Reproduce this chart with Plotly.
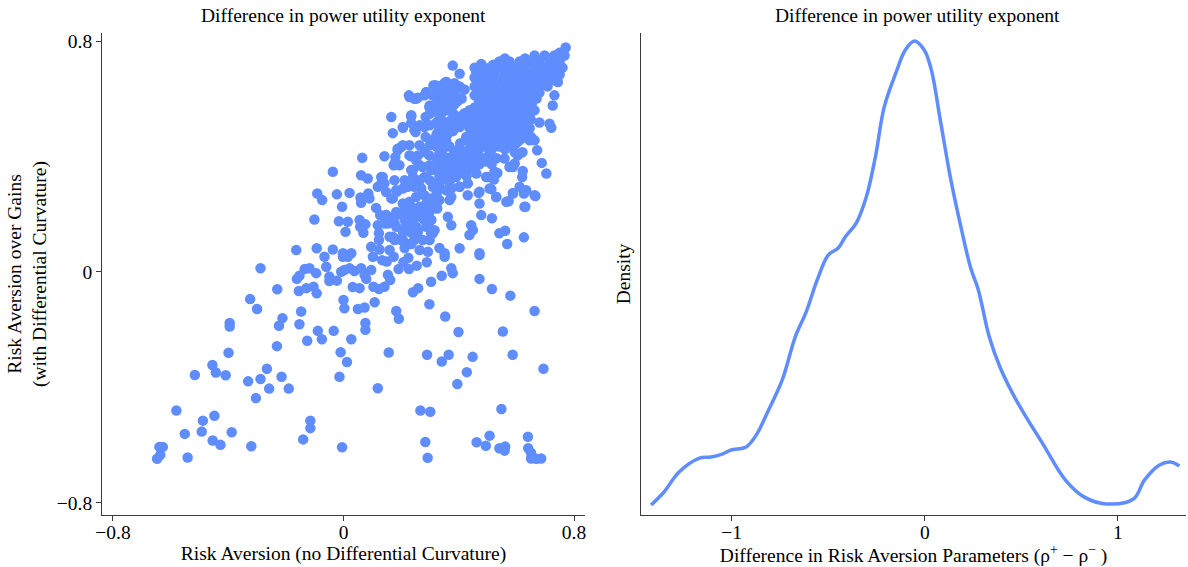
import plotly.graph_objects as go

# ---------------- Scatter data (x = risk aversion no diff. curvature, y = risk aversion over gains) ----
lower_left_pts = [
    (-0.288, 0.013), (-0.230, -0.060), (-0.324, -0.094), (-0.300, -0.128), (-0.212, -0.160),
    (-0.224, -0.186), (-0.395, -0.177), (-0.395, -0.189), (-0.231, -0.257), (-0.399, -0.280),
    (-0.455, -0.322), (-0.443, -0.348), (-0.409, -0.358), (-0.516, -0.357), (-0.266, -0.335),
    (-0.288, -0.371), (-0.331, -0.379), (-0.215, -0.363), (-0.258, -0.404), (-0.190, -0.404),
    (-0.304, -0.437), (-0.580, -0.480), (-0.488, -0.515), (-0.448, -0.498), (-0.551, -0.561),
    (-0.492, -0.553), (-0.388, -0.555), (-0.454, -0.584), (-0.427, -0.599), (-0.320, -0.604),
    (-0.639, -0.606), (-0.627, -0.606), (-0.636, -0.634), (-0.647, -0.647), (-0.541, -0.643),
]
lower_mid_pts = [
    (-0.147, -0.137), (-0.153, -0.181), (-0.089, -0.204), (-0.034, -0.204), (-0.075, -0.233),
    (-0.126, -0.238), (0.000, -0.097), (0.003, -0.126), (0.050, -0.128), (0.073, -0.123),
    (0.108, -0.105), (0.076, -0.177), (0.076, -0.200), (0.027, -0.233), (0.183, -0.135),
    (0.192, -0.162), (-0.010, -0.278), (0.012, -0.312), (0.157, -0.279), (0.290, -0.287),
    (-0.014, -0.363), (0.119, -0.403), (0.267, -0.480), (0.301, -0.484), (-0.115, -0.515),
    (-0.115, -0.541), (-0.140, -0.580), (-0.005, -0.607), (0.284, -0.589), (0.292, -0.644),
    (-0.066, 0.053), (-0.060, 0.018), (-0.002, 0.053), (0.015, 0.053), (0.003, 0.007),
    (-0.008, 0.001), (0.021, 0.013), (0.038, 0.003), (0.061, 0.013), (0.073, -0.010),
    (0.096, 0.007), (0.079, -0.024), (0.102, 0.053), (0.134, 0.041), (0.150, 0.036),
    (0.174, 0.053), (0.208, 0.034), (0.225, 0.049), (0.227, 0.010), (0.254, 0.022),
    (0.289, 0.034), (0.191, 0.010), (0.154, -0.010), (0.162, -0.028), (0.142, -0.051),
    (0.123, -0.059), (0.104, -0.051), (0.032, -0.052), (0.056, -0.056), (-0.049, -0.016),
    (-0.049, -0.031), (-0.023, -0.030), (-0.095, -0.004), (-0.118, 0.013), (-0.135, 0.010),
    (-0.162, -0.024), (-0.153, -0.013), (-0.155, -0.066), (-0.129, -0.056), (-0.104, -0.051),
    (-0.093, -0.074), (0.241, -0.070), (0.259, -0.056), (0.304, -0.034), (0.298, -0.112),
]
lower_right_pts = [
    (0.351, 0.053), (0.472, 0.059), (0.374, 0.013), (0.379, -0.004), (0.341, -0.013),
    (0.472, -0.024), (0.515, -0.059), (0.579, -0.082), (0.663, -0.135), (0.353, -0.154),
    (0.399, -0.208), (0.553, -0.206), (0.365, -0.287), (0.341, -0.310), (0.448, -0.294),
    (0.587, -0.287), (0.428, -0.347), (0.395, -0.388), (0.694, -0.335), (0.548, -0.475),
    (0.507, -0.567), (0.462, -0.590), (0.494, -0.602), (0.541, -0.611), (0.561, -0.605),
    (0.559, -0.619), (0.640, -0.571), (0.641, -0.611), (0.651, -0.627), (0.651, -0.646),
    (0.669, -0.647), (0.686, -0.646),
]
upper_mid_pts = [
    (-0.164, 0.076), (-0.093, 0.082), (-0.037, 0.078), (-0.002, 0.065), (0.027, 0.065),
    (-0.101, 0.182), (-0.016, 0.176), (0.015, 0.174), (0.007, 0.139), (0.056, 0.180),
    (0.076, 0.165), (0.058, 0.157), (0.069, 0.136), (-0.091, 0.272), (-0.074, 0.249),
    (-0.023, 0.269), (0.021, 0.274), (-0.005, 0.226), (0.059, 0.258), (0.061, 0.240),
    (0.086, 0.272), (0.090, 0.255), (0.113, 0.222), (-0.037, 0.347), (0.061, 0.335),
    (0.084, 0.324), (0.065, 0.396), (0.142, 0.401), (0.131, 0.329), (0.119, 0.295),
    (0.142, 0.307), (0.148, 0.277), (0.166, 0.255), (0.127, 0.197), (0.148, 0.197),
    (0.119, 0.162), (0.123, 0.134), (0.123, 0.111), (0.096, 0.087), (0.125, 0.078),
    (0.160, 0.076), (0.154, 0.168), (0.177, 0.168), (0.183, 0.208), (0.185, 0.278),
    (0.206, 0.289), (0.223, 0.295), (0.246, 0.295), (0.270, 0.289), (0.281, 0.266),
    (0.252, 0.260), (0.229, 0.243), (0.212, 0.226), (0.194, 0.203), (0.241, 0.214),
    (0.270, 0.214), (0.252, 0.191), (0.275, 0.186), (0.298, 0.214), (0.304, 0.255),
    (0.218, 0.162), (0.241, 0.168), (0.206, 0.139), (0.235, 0.136), (0.258, 0.139),
    (0.171, 0.122), (0.183, 0.113), (0.206, 0.111), (0.235, 0.097), (0.264, 0.076),
    (0.293, 0.070), (0.304, 0.134), (0.287, 0.157), (0.166, 0.537), (0.171, 0.481),
    (0.206, 0.500), (0.235, 0.539), (0.227, 0.612), (0.246, 0.600), (0.258, 0.604),
    (0.287, 0.623), (0.312, 0.646), (0.298, 0.571), (0.285, 0.537), (0.235, 0.516),
    (0.250, 0.485), (0.285, 0.468), (0.304, 0.456), (0.200, 0.433), (0.188, 0.422),
    (0.180, 0.398), (0.174, 0.370), (0.229, 0.404), (0.258, 0.404), (0.281, 0.416),
    (0.252, 0.387), (0.275, 0.364), (0.235, 0.353), (0.241, 0.329), (0.281, 0.329),
    (0.298, 0.404), (0.304, 0.353), (0.310, 0.295),
    (0.281, 0.612), (0.309, 0.612), (0.299, 0.577), (0.264, 0.508), (0.299, 0.508),
    (0.229, 0.439), (0.264, 0.439), (0.299, 0.439), (0.194, 0.370), (0.264, 0.370),
    (0.299, 0.370), (0.177, 0.318), (0.212, 0.318), (0.264, 0.318), (0.299, 0.318),
    (0.229, 0.232), (0.299, 0.232), (0.212, 0.180), (0.281, 0.180), (0.305, 0.180),
    (0.177, 0.111), (0.246, 0.111), (0.299, 0.111), (0.212, 0.083), (0.333, 0.083),
]
middle_band_pts = [
    (0.188, 0.427), (0.206, 0.439), (0.235, 0.401), (0.177, 0.376), (0.241, 0.353),
    (0.136, 0.329), (0.131, 0.307), (0.183, 0.283), (0.171, 0.255), (0.218, 0.295),
    (0.241, 0.301), (0.264, 0.295), (0.206, 0.237), (0.235, 0.226), (0.264, 0.226),
    (0.287, 0.237), (0.148, 0.197), (0.177, 0.191), (0.212, 0.197), (0.241, 0.191),
    (0.270, 0.197), (0.299, 0.208), (0.142, 0.168), (0.183, 0.157), (0.218, 0.145),
    (0.252, 0.157), (0.299, 0.151), (0.160, 0.122), (0.200, 0.111), (0.235, 0.099),
    (0.275, 0.111), (0.310, 0.134), (0.322, 0.353), (0.356, 0.376), (0.391, 0.399),
    (0.414, 0.364), (0.356, 0.329), (0.391, 0.329), (0.426, 0.353), (0.333, 0.307),
    (0.356, 0.283), (0.374, 0.260), (0.403, 0.295), (0.431, 0.307), (0.472, 0.278),
    (0.507, 0.289), (0.530, 0.260), (0.495, 0.329), (0.524, 0.347), (0.322, 0.456),
    (0.356, 0.456), (0.426, 0.468), (0.461, 0.456), (0.403, 0.502), (0.437, 0.525),
    (0.229, 0.606), (0.252, 0.600), (0.287, 0.623), (0.316, 0.612), (0.345, 0.618),
    (0.316, 0.646), (0.356, 0.658), (0.495, 0.704), (0.299, 0.548), (0.281, 0.502),
    (0.235, 0.543), (0.206, 0.502), (0.246, 0.491), (0.588, 0.364), (0.663, 0.266),
    (0.628, 0.226), (0.588, 0.272), (0.565, 0.243),
]
upper_right_pts = [
    (0.379, 0.715), (0.403, 0.687), (0.478, 0.721), (0.461, 0.692), (0.356, 0.658),
    (0.322, 0.646), (0.466, 0.646), (0.726, 0.577), (0.715, 0.514), (0.721, 0.500),
    (0.732, 0.612), (0.744, 0.658), (0.672, 0.422), (0.688, 0.378), (0.704, 0.341),
    (0.622, 0.350), (0.620, 0.329), (0.611, 0.295), (0.634, 0.283), (0.626, 0.272),
    (0.666, 0.263), (0.588, 0.274), (0.573, 0.245), (0.631, 0.226), (0.530, 0.260),
    (0.513, 0.287), (0.472, 0.237), (0.469, 0.274), (0.534, 0.343), (0.522, 0.320),
    (0.499, 0.329), (0.461, 0.341), (0.431, 0.307), (0.431, 0.266), (0.403, 0.295),
    (0.368, 0.249), (0.322, 0.237), (0.325, 0.220), (0.362, 0.191), (0.374, 0.162),
    (0.316, 0.145), (0.443, 0.162), (0.449, 0.145), (0.437, 0.128), (0.478, 0.197),
    (0.515, 0.186), (0.541, 0.134), (0.561, 0.143), (0.568, 0.097), (0.626, 0.120),
    (0.403, 0.082), (0.472, 0.065), (0.351, 0.065), (0.576, 0.364), (0.594, 0.376),
    (0.605, 0.404), (0.559, 0.393), (0.663, 0.456), (0.651, 0.468),
]
dense_cluster_pts = [
    (0.771, 0.778), (0.750, 0.760),
    (0.663, 0.750), (0.698, 0.750), (0.732, 0.750), (0.767, 0.750),
    (0.541, 0.729), (0.576, 0.729), (0.611, 0.729), (0.646, 0.729), (0.680, 0.729), (0.715, 0.729), (0.750, 0.729),
    (0.455, 0.708), (0.507, 0.708), (0.541, 0.708), (0.594, 0.708), (0.628, 0.708), (0.663, 0.708),
    (0.698, 0.708), (0.732, 0.708), (0.760, 0.708),
    (0.489, 0.684), (0.524, 0.684), (0.559, 0.684), (0.611, 0.684), (0.646, 0.684), (0.680, 0.684),
    (0.715, 0.684), (0.750, 0.684),
    (0.472, 0.664), (0.507, 0.664), (0.541, 0.664), (0.576, 0.664), (0.611, 0.664), (0.663, 0.664),
    (0.698, 0.664), (0.732, 0.664),
    (0.333, 0.643), (0.368, 0.643), (0.403, 0.643), (0.455, 0.643), (0.489, 0.643), (0.524, 0.643),
    (0.559, 0.643), (0.594, 0.643), (0.628, 0.643), (0.680, 0.643), (0.708, 0.643),
    (0.351, 0.622), (0.385, 0.622), (0.472, 0.622), (0.507, 0.622), (0.541, 0.622), (0.576, 0.622),
    (0.611, 0.622), (0.646, 0.622), (0.680, 0.622),
    (0.323, 0.601), (0.368, 0.601), (0.410, 0.601), (0.489, 0.601), (0.531, 0.601), (0.566, 0.601),
    (0.601, 0.601), (0.635, 0.601), (0.670, 0.601),
    (0.333, 0.581), (0.385, 0.581), (0.472, 0.581), (0.507, 0.581), (0.541, 0.581), (0.583, 0.581),
    (0.618, 0.581), (0.653, 0.581),
    (0.323, 0.560), (0.357, 0.560), (0.437, 0.560), (0.479, 0.560), (0.524, 0.560), (0.559, 0.560),
    (0.594, 0.560), (0.628, 0.560), (0.663, 0.560),
    (0.333, 0.539), (0.403, 0.539), (0.455, 0.539), (0.496, 0.539), (0.541, 0.539), (0.576, 0.539),
    (0.611, 0.539), (0.646, 0.539),
    (0.323, 0.518), (0.357, 0.518), (0.392, 0.518), (0.427, 0.518), (0.472, 0.518), (0.514, 0.518),
    (0.559, 0.518), (0.594, 0.518), (0.628, 0.518), (0.680, 0.518),
    (0.340, 0.498), (0.375, 0.498), (0.437, 0.498), (0.489, 0.498), (0.531, 0.498), (0.576, 0.498),
    (0.611, 0.498), (0.646, 0.498),
    (0.323, 0.477), (0.361, 0.477), (0.455, 0.477), (0.507, 0.477), (0.548, 0.477), (0.594, 0.477),
    (0.628, 0.477),
    (0.333, 0.456), (0.430, 0.456), (0.472, 0.456), (0.524, 0.456), (0.566, 0.456), (0.611, 0.456),
    (0.646, 0.456),
    (0.323, 0.435), (0.368, 0.435), (0.444, 0.435), (0.489, 0.435), (0.541, 0.435), (0.583, 0.435),
    (0.333, 0.415), (0.385, 0.415), (0.420, 0.415), (0.465, 0.415), (0.507, 0.415), (0.594, 0.415),
    (0.621, 0.415),
    (0.323, 0.394), (0.361, 0.394), (0.403, 0.394), (0.444, 0.394), (0.489, 0.394), (0.531, 0.394),
    (0.340, 0.373), (0.385, 0.373), (0.427, 0.373), (0.472, 0.373), (0.514, 0.373),
    (0.323, 0.353), (0.368, 0.353), (0.410, 0.353), (0.455, 0.353),
    (0.333, 0.332), (0.385, 0.332), (0.427, 0.332),
    (0.323, 0.311), (0.368, 0.311),
    (0.333, 0.290), (0.375, 0.290),
    (0.323, 0.270),
    (0.333, 0.249),
]
dense_fill_pts = [
    (0.560, 0.740), (0.630, 0.740), (0.715, 0.740), (0.750, 0.740),
    (0.520, 0.718), (0.560, 0.718), (0.612, 0.718), (0.680, 0.718), (0.715, 0.718), (0.745, 0.718),
    (0.470, 0.696), (0.505, 0.696), (0.575, 0.696), (0.595, 0.696), (0.630, 0.696), (0.663, 0.696),
    (0.698, 0.696), (0.735, 0.696),
    (0.455, 0.674), (0.525, 0.674), (0.560, 0.674), (0.590, 0.674), (0.630, 0.674), (0.680, 0.674),
    (0.715, 0.674),
    (0.350, 0.654), (0.385, 0.654), (0.490, 0.654), (0.525, 0.654), (0.560, 0.654), (0.595, 0.654),
    (0.640, 0.654), (0.690, 0.654),
    (0.340, 0.632), (0.370, 0.632), (0.420, 0.632), (0.490, 0.632), (0.525, 0.632), (0.560, 0.632),
    (0.595, 0.632), (0.630, 0.632), (0.660, 0.632),
    (0.340, 0.612), (0.390, 0.612), (0.455, 0.612), (0.510, 0.612), (0.545, 0.612), (0.585, 0.612),
    (0.620, 0.612), (0.655, 0.612),
    (0.350, 0.591), (0.395, 0.591), (0.470, 0.591), (0.510, 0.591), (0.550, 0.591), (0.600, 0.591),
    (0.640, 0.591),
    (0.340, 0.570), (0.370, 0.570), (0.455, 0.570), (0.495, 0.570), (0.540, 0.570), (0.575, 0.570),
    (0.610, 0.570), (0.645, 0.570),
    (0.340, 0.550), (0.380, 0.550), (0.420, 0.550), (0.470, 0.550), (0.510, 0.550), (0.550, 0.550),
    (0.595, 0.550), (0.630, 0.550),
    (0.340, 0.528), (0.375, 0.528), (0.410, 0.528), (0.445, 0.528), (0.490, 0.528), (0.530, 0.528),
    (0.575, 0.528), (0.615, 0.528), (0.650, 0.528),
    (0.330, 0.508), (0.360, 0.508), (0.400, 0.508), (0.455, 0.508), (0.505, 0.508), (0.550, 0.508),
    (0.595, 0.508), (0.630, 0.508),
    (0.330, 0.488), (0.380, 0.488), (0.470, 0.488), (0.525, 0.488), (0.570, 0.488), (0.610, 0.488),
    (0.340, 0.466), (0.445, 0.466), (0.490, 0.466), (0.540, 0.466), (0.585, 0.466), (0.630, 0.466),
    (0.345, 0.446), (0.405, 0.446), (0.460, 0.446), (0.505, 0.446), (0.555, 0.446), (0.600, 0.446),
    (0.345, 0.425), (0.400, 0.425), (0.435, 0.425), (0.470, 0.425), (0.515, 0.425), (0.560, 0.425),
    (0.345, 0.404), (0.380, 0.404), (0.425, 0.404), (0.465, 0.404), (0.510, 0.404),
    (0.330, 0.383), (0.365, 0.383), (0.405, 0.383), (0.455, 0.383), (0.495, 0.383),
    (0.345, 0.363), (0.390, 0.363), (0.435, 0.363),
    (0.350, 0.342), (0.405, 0.342),
    (0.345, 0.321),
]

# ---------------- Density data ----------------
diff_grid = [
    -1.417, -1.350, -1.272, -1.163, -1.106, -1.049, -1.003, -0.925, -0.873, -0.816,
    -0.738, -0.671, -0.614, -0.557, -0.500, -0.448, -0.412, -0.355, -0.303, -0.256,
    -0.210, -0.148, -0.101, -0.054, -0.003, 0.034, 0.080, 0.132, 0.179, 0.236,
    0.277, 0.334, 0.391, 0.479, 0.614, 0.728, 0.826, 0.940, 1.080, 1.137,
    1.215, 1.272, 1.318,
]
density_vals = [
    0.037, 0.085, 0.159, 0.211, 0.214, 0.225, 0.240, 0.251, 0.295, 0.377,
    0.499, 0.657, 0.750, 0.868, 0.960, 0.986, 1.027, 1.078, 1.174, 1.322,
    1.507, 1.636, 1.717, 1.750, 1.717, 1.643, 1.459, 1.248, 1.089, 0.916,
    0.831, 0.657, 0.543, 0.417, 0.259, 0.129, 0.066, 0.041, 0.059, 0.129,
    0.185, 0.196, 0.181,
]

x_ticks_left = [-0.8, 0, 0.8]
y_ticks_left = [-0.8, 0, 0.8]
x_ticks_right = [-1, 0, 1]

all_pts = (lower_left_pts + lower_mid_pts + lower_right_pts + upper_mid_pts + middle_band_pts
           + upper_right_pts + dense_cluster_pts + dense_fill_pts)
sx = [p[0] for p in all_pts]
sy = [p[1] for p in all_pts]

BLUE = "#5f8dfd"
FONT = "Liberation Serif"
AX = "#3a3a3a"
FS = 19.5

fig = go.Figure()
fig.add_trace(go.Scatter(x=sx, y=sy, mode="markers", xaxis="x", yaxis="y",
                         marker=dict(color=BLUE, size=10.5, line=dict(width=0)),
                         showlegend=False, hoverinfo="x+y"))
fig.add_trace(go.Scatter(x=diff_grid, y=density_vals, mode="lines", xaxis="x2", yaxis="y2",
                         line=dict(color=BLUE, width=3.5, shape="spline", smoothing=1.0),
                         showlegend=False))

common_axis = dict(showline=True, linecolor=AX, linewidth=1, showgrid=False, zeroline=False,
                   ticks="outside", ticklen=5, tickcolor=AX, tickwidth=1, automargin=False,
                   tickfont=dict(family=FONT, size=FS, color="#000"))

fig.update_layout(
    width=1188, height=567,
    margin=dict(l=0, r=0, t=0, b=0),
    paper_bgcolor="white", plot_bgcolor="white",
    font=dict(family=FONT, size=FS, color="#000"),
    xaxis=dict(common_axis, domain=[0.0859, 0.4924], range=[-0.838, 0.838], anchor="y",
               tickvals=x_ticks_left, ticktext=["\u22120.8", "0", "0.8"], ticklabelstandoff=-5,
               title=dict(text="Risk Aversion (no Differential Curvature)", standoff=3,
                          font=dict(family=FONT, size=FS))),
    yaxis=dict(common_axis, domain=[0.0917, 0.9418], range=[-0.842, 0.828], anchor="x",
               tickvals=y_ticks_left, ticktext=["\u22120.8", "0", "0.8"],
               title=dict(text="Risk Aversion over Gains<br>(with Differential Curvature)", standoff=4,
                          font=dict(family=FONT, size=FS))),
    xaxis2=dict(common_axis, domain=[0.5396, 0.9983], range=[-1.469, 1.352], anchor="y2",
                tickvals=x_ticks_right, ticktext=["\u22121", "0", "1"], ticklabelstandoff=-5,
                title=dict(text="Difference in Risk Aversion Parameters (\u03c1<sup>+</sup> \u2212 \u03c1<sup>\u2212</sup> )",
                           standoff=3, font=dict(family=FONT, size=FS))),
    yaxis2=dict(showline=True, linecolor=AX, linewidth=1, showgrid=False, zeroline=False,
                showticklabels=False, ticks="", domain=[0.0917, 0.9418], range=[0, 1.78], anchor="x2",
                automargin=False,
                title=dict(text="Density", standoff=4, font=dict(family=FONT, size=FS))),
    annotations=[
        dict(text="Difference in power utility exponent", xref="paper", yref="paper",
             x=0.2891, y=0.972, xanchor="center", yanchor="middle", showarrow=False,
             font=dict(family=FONT, size=FS, color="#000")),
        dict(text="Difference in power utility exponent", xref="paper", yref="paper",
             x=0.7719, y=0.972, xanchor="center", yanchor="middle", showarrow=False,
             font=dict(family=FONT, size=FS, color="#000")),
    ],
)

fig.write_html("out.html", config={"displayModeBar": False},
               post_script="document.body.style.margin='0';document.body.style.overflow='hidden';")
